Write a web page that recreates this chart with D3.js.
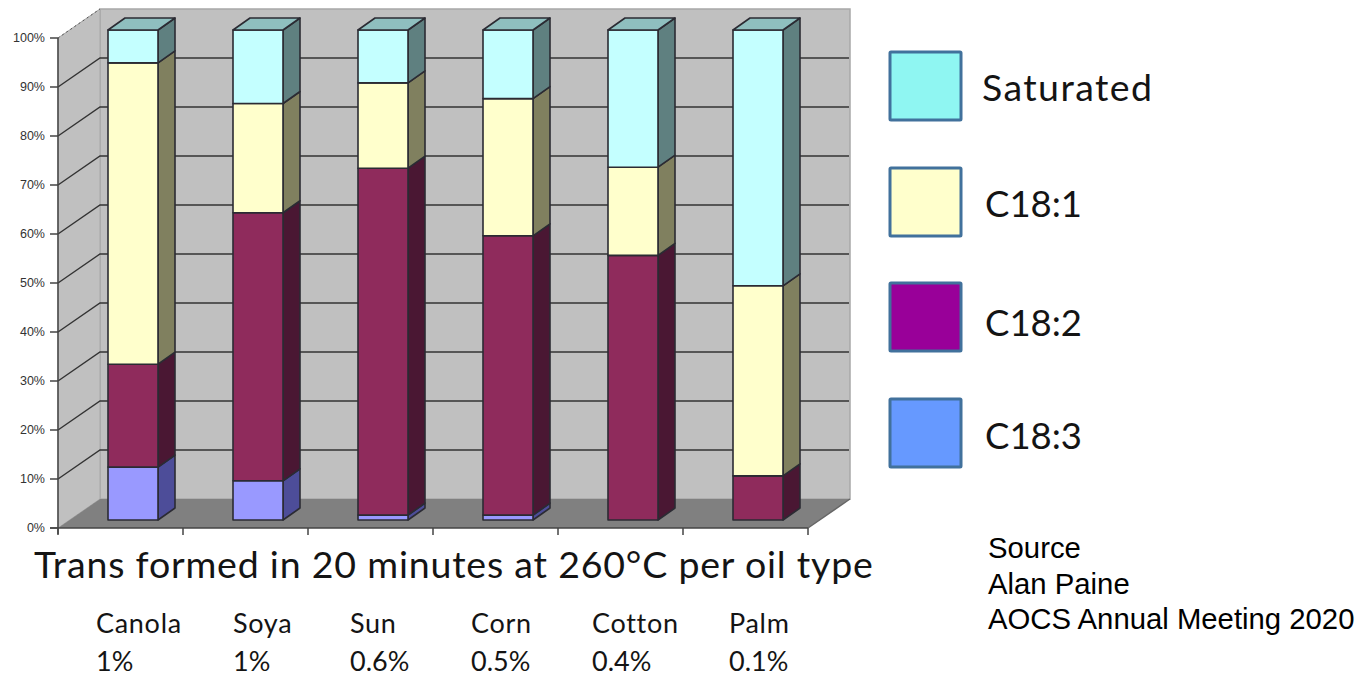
<!DOCTYPE html>
<html>
<head>
<meta charset="utf-8">
<script src="https://cdn.jsdelivr.net/npm/d3@7"></script>
<style>
html, body { margin: 0; padding: 0; background: #fff; }
svg { display: block; }
</style>
</head>
<body>
<svg id="chart" width="1369" height="676"></svg>
<script>
const oils = ["Canola", "Soya", "Sun", "Corn", "Cotton", "Palm"];
const transPct = ["1%", "1%", "0.6%", "0.5%", "0.4%", "0.1%"];
const seriesNames = ["C18:3", "C18:2", "C18:1", "Saturated"];
const c183 = [10.8, 8, 1, 1, 0, 0];
const c182 = [21, 54.7, 70.8, 57, 54, 9];
const c181 = [61.5, 22.3, 17.4, 28, 18, 38.8];
const saturated = [6.7, 15, 10.8, 14, 28, 52.2];
const seriesValues = [c183, c182, c181, saturated];
const yTicks = d3.range(0, 101, 10);
const legendOrder = ["Saturated", "C18:1", "C18:2", "C18:3"];
const sourceLines = ["Source", "Alan Paine", "AOCS Annual Meeting 2020"];

// Oblique projection: the plot box has depth, walls are offset from the front plane.
const wallDx = 42, wallDy = -29;
const barDx = 17, barDy = -12;
const palette = {
  "C18:3":     { front: "#9999ff", side: "#4d4d99", top: "#7a7acc" },
  "C18:2":     { front: "#8f2b5c", side: "#4a1733", top: "#6e2047" },
  "C18:1":     { front: "#ffffcc", side: "#80805f", top: "#bfbf99" },
  "Saturated": { front: "#c4ffff", side: "#5f8080", top: "#8fbfbf" }
};
const legendColor = { "Saturated": "#8ff6f2", "C18:1": "#ffffcc", "C18:2": "#990099", "C18:3": "#6699ff" };

const svg = d3.select("#chart");
const x = d3.scaleBand().domain(oils).range([58, 808]);
const yAxisScale = d3.scaleLinear().domain([0, 100]).range([528, 38]);
const yBar = d3.scaleLinear().domain([0, 100]).range([520, 30]);
const barW = 50;
const barLeft = d => x(d) + 50;

const poly = pts => pts.map(p => p.join(",")).join(" ");
const x0 = x.range()[0], x1 = x.range()[1];
const y0 = yAxisScale(0), y100 = yAxisScale(100);

// Walls and floor
svg.append("polygon").attr("points", poly([[x0 + wallDx, y100 + wallDy], [x1 + wallDx, y100 + wallDy], [x1 + wallDx, y0 + wallDy], [x0 + wallDx, y0 + wallDy]]))
  .attr("fill", "#c0c0c0").attr("stroke", "#a8a8a8").attr("stroke-width", 1.5);
svg.append("polygon").attr("points", poly([[x0, y100], [x0 + wallDx, y100 + wallDy], [x0 + wallDx, y0 + wallDy], [x0, y0]]))
  .attr("fill", "#c0c0c0").attr("stroke", "#a8a8a8").attr("stroke-width", 1);
svg.append("polygon").attr("points", poly([[x0, y0], [x0 + wallDx, y0 + wallDy], [x1 + wallDx, y0 + wallDy], [x1, y0]]))
  .attr("fill", "#808080");

// Gridlines along the left wall and across the back wall
const grid = svg.append("g").attr("fill", "none").attr("stroke", "#333").attr("stroke-width", 1.4);
yTicks.filter(t => t > 0 && t < 100).forEach(t => {
  const yy = yAxisScale(t);
  grid.append("polyline").attr("points", poly([[x0, yy], [x0 + wallDx, yy + wallDy], [x1 + wallDx - 1, yy + wallDy]]));
});
svg.append("line").attr("x1", x0).attr("y1", y100).attr("x2", x0 + wallDx).attr("y2", y100 + wallDy)
  .attr("stroke", "#555").attr("stroke-width", 1).attr("stroke-dasharray", "2 3");

// Front edge axes, ticks and percent labels
const axes = svg.append("g").attr("stroke", "#444").attr("stroke-width", 1.5).attr("fill", "none");
axes.append("line").attr("x1", x0).attr("x2", x0).attr("y1", y100).attr("y2", y0 + 6);
axes.append("line").attr("x1", x0 - 8).attr("x2", x1).attr("y1", y0).attr("y2", y0);
axes.append("line").attr("x1", x1).attr("x2", x1 + wallDx).attr("y1", y0).attr("y2", y0 + wallDy).attr("stroke", "#666");
yTicks.forEach(t => axes.append("line").attr("x1", x0 - 8).attr("x2", x0).attr("y1", yAxisScale(t)).attr("y2", yAxisScale(t)));
oils.forEach(d => axes.append("line").attr("x1", x(d)).attr("x2", x(d)).attr("y1", y0).attr("y2", y0 + 7));
axes.append("line").attr("x1", x1).attr("x2", x1).attr("y1", y0).attr("y2", y0 + 7);

svg.append("g").selectAll("text").data(yTicks).join("text")
  .attr("x", 45).attr("y", t => yAxisScale(t)).attr("dy", "0.35em").attr("text-anchor", "end")
  .attr("font-family", "Liberation Sans").attr("font-size", 12.5).attr("fill", "#333").text(t => t + "%");

// Stacked bars, bottom segment first so upper tops overlap correctly
const stackEnds = oils.map((_, i) => {
  let acc = 0;
  return seriesValues.map(s => { const from = acc; acc += s[i]; return [from, acc]; });
});
const bars = svg.append("g");
oils.forEach((oil, i) => {
  const lx = barLeft(oil);
  seriesNames.forEach((name, k) => {
    const [from, to] = stackEnds[i][k];
    if (to - from <= 0) return;
    const yb = yBar(from), yt = yBar(to), col = palette[name];
    const g = bars.append("g").attr("stroke", "#2b2b33").attr("stroke-width", 1.6).attr("stroke-linejoin", "round");
    g.append("polygon").attr("points", poly([[lx + barW, yb], [lx + barW + barDx, yb + barDy], [lx + barW + barDx, yt + barDy], [lx + barW, yt]])).attr("fill", col.side);
    g.append("rect").attr("x", lx).attr("y", yt).attr("width", barW).attr("height", yb - yt).attr("fill", col.front);
    if (k === seriesNames.length - 1) {
      g.append("polygon").attr("points", poly([[lx, yt], [lx + barDx, yt + barDy], [lx + barW + barDx, yt + barDy], [lx + barW, yt]])).attr("fill", col.top);
    }
  });
});

// Caption and per-oil trans figures
const inkColor = "#141414";
svg.append("text").attr("x", 34).attr("y", 578).attr("font-family", "Lato").attr("font-size", 37.5)
  .attr("letter-spacing", 0.8).attr("fill", inkColor)
  .text("Trans formed in 20 minutes at 260°C per oil type");
const oilLabelX = d3.scaleOrdinal().domain(oils).range([96, 233, 350, 471, 592, 729]);
svg.append("g").selectAll("text").data(oils).join("text")
  .attr("x", d => oilLabelX(d)).attr("y", 633).attr("font-family", "Lato").attr("font-size", 27)
  .attr("letter-spacing", 0.7).attr("fill", inkColor).text(d => d);
svg.append("g").selectAll("text").data(oils).join("text")
  .attr("x", d => oilLabelX(d)).attr("y", 671).attr("font-family", "Lato").attr("font-size", 27)
  .attr("fill", inkColor).text((d, i) => transPct[i]);

// Legend
const legendBoxY = d3.scaleOrdinal().domain(legendOrder).range([51, 167, 282, 398]);
const legendBaseline = d3.scaleOrdinal().domain(legendOrder).range([101, 217, 336, 449]);
const legend = svg.append("g").selectAll("g").data(legendOrder).join("g");
legend.append("rect").attr("x", 890).attr("y", d => legendBoxY(d) + 1).attr("width", 71).attr("height", 68).attr("rx", 1)
  .attr("fill", d => legendColor[d]).attr("stroke", "#41719c").attr("stroke-width", 3);
legend.append("text").attr("x", d => d === "Saturated" ? 982 : 985).attr("y", d => legendBaseline(d))
  .attr("font-family", "Lato").attr("font-size", d => d === "Saturated" ? 37.5 : 36.5)
  .attr("letter-spacing", d => d === "Saturated" ? 1.4 : 0).attr("fill", inkColor).text(d => d);

// Source note
svg.append("g").selectAll("text").data(sourceLines).join("text")
  .attr("x", 988).attr("y", (d, i) => 558 + i * 35.5).attr("font-family", "Liberation Sans").attr("font-size", 29.3).attr("fill", "#000").text(d => d);
</script>
</body>
</html>
